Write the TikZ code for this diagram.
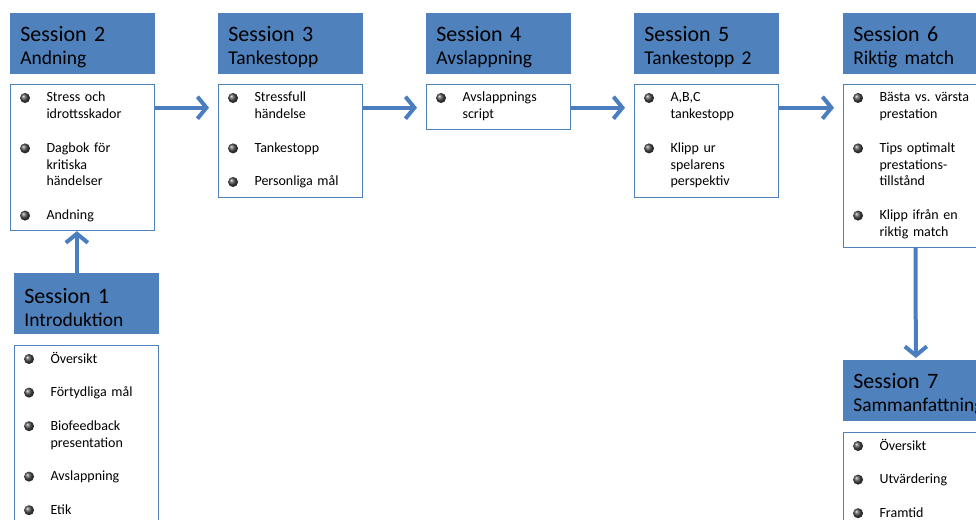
\documentclass[tikz,border=0pt]{standalone}
\usepackage{fontspec}
\setmainfont{Carlito}
\usetikzlibrary{arrows.meta, positioning}
\definecolor{headcolor}{RGB}{79,129,189}
\definecolor{bodyborder}{RGB}{79,129,189}
\definecolor{flowcolor}{RGB}{74,126,190}
\newlength{\itemgap}
\setlength{\itemgap}{9.56pt}
\newcommand{\bul}{\tikz[baseline=-0.08cm]\shade[ball color=black!70] (0,0) circle (0.1cm);}
\newcommand{\headsub}{\fontsize{11.1}{13.1}\selectfont}
\newenvironment{items}{\begin{tabular}{@{\hspace{0.19cm}}p{0.53cm}@{}l@{}}}{\end{tabular}}
\frenchspacing

\begin{document}
\begin{tikzpicture}[
    every node/.style={font=\fontsize{7.97}{9.56}\selectfont},
    headbox/.style={fill=headcolor, anchor=north west, align=left,
                    text width=2.5cm, inner xsep=0.2cm, inner ysep=0pt,
                    minimum height=1.22cm, font=\fontsize{12.5}{13.1}\selectfont,
                    execute at begin node=\rule{0pt}{12.6pt}},
    bodybox/.style={draw=bodyborder, line width=0.6pt, fill=white, align=left,
                    text width=2.88cm, inner xsep=0pt, inner ysep=0.12cm},
    flow/.style={-{Straight Barb[length=0.18cm,width=0.44cm]}, line width=0.08cm,
                 color=flowcolor},
]

\useasboundingbox (0,0) rectangle (19.52,-10.38);
\clip (0,0) rectangle (19.52,-10.38);

%% ── Session headers ──────────────────────────────────────────────────────────
\node[headbox] (s2h) at (0.2,-0.26)   {Session 2\\{\headsub Andning}};
\node[headbox] (s3h) at (4.36,-0.26)  {Session 3\\{\headsub Tankestopp}};
\node[headbox] (s4h) at (8.52,-0.26)  {Session 4\\{\headsub Avslappning}};
\node[headbox] (s5h) at (12.68,-0.26) {Session 5\\{\headsub Tankestopp 2}};
\node[headbox] (s6h) at (16.86,-0.26) {Session 6\\{\headsub Riktig match}};
\node[headbox] (s1h) at (0.28,-5.46)  {Session 1\\{\headsub Introduktion}};
\node[headbox] (s7h) at (16.86,-7.2)  {Session 7\\{\headsub Sammanfattning}};

%% ── Session contents ─────────────────────────────────────────────────────────
\node[bodybox, below=0.18cm of s2h.south west, anchor=north west] (s2b)
  {\begin{items}
   \bul & Stress och\\ & idrottsskador\\[\itemgap]
   \bul & Dagbok för\\ & kritiska\\ & händelser\\[\itemgap]
   \bul & Andning
   \end{items}};

\node[bodybox, below=0.18cm of s3h.south west, anchor=north west] (s3b)
  {\begin{items}
   \bul & Stressfull\\ & händelse\\[\itemgap]
   \bul & Tankestopp\\[\itemgap]
   \bul & Personliga mål
   \end{items}};

\node[bodybox, below=0.18cm of s4h.south west, anchor=north west] (s4b)
  {\begin{items}
   \bul & Avslappnings\\ & script
   \end{items}};

\node[bodybox, below=0.18cm of s5h.south west, anchor=north west] (s5b)
  {\begin{items}
   \bul & A,B,C\\ & tankestopp\\[\itemgap]
   \bul & Klipp ur\\ & spelarens\\ & perspektiv
   \end{items}};

\node[bodybox, below=0.18cm of s6h.south west, anchor=north west] (s6b)
  {\begin{items}
   \bul & Bästa vs. värsta\\ & prestation\\[\itemgap]
   \bul & Tips optimalt\\ & prestations-\\ & tillstånd\\[\itemgap]
   \bul & Klipp ifrån en\\ & riktig match
   \end{items}};

\node[bodybox, below=0.2cm of s1h.south west, anchor=north west] (s1b)
  {\begin{items}
   \bul & Översikt\\[\itemgap]
   \bul & Förtydliga mål\\[\itemgap]
   \bul & Biofeedback\\ & presentation\\[\itemgap]
   \bul & Avslappning\\[\itemgap]
   \bul & Etik
   \end{items}};

\node[bodybox, below=0.2cm of s7h.south west, anchor=north west] (s7b)
  {\begin{items}
   \bul & Översikt\\[\itemgap]
   \bul & Utvärdering\\[\itemgap]
   \bul & Framtid
   \end{items}};

%% ── Flow between sessions ────────────────────────────────────────────────────
\draw[flow] ([xshift=-0.2cm]s1h.north) -- ([xshift=-0.2cm]s1h.north |- s2b.south);
\draw[flow, shorten >=0.18cm] ([yshift=-0.48cm]s2b.north east) -- ([yshift=-0.48cm]s3b.north west);
\draw[flow, shorten >=0.18cm] ([yshift=-0.48cm]s3b.north east) -- ([yshift=-0.48cm]s4b.north west);
\draw[flow, shorten >=0.18cm] ([yshift=-0.48cm]s4b.north east) -- ([yshift=-0.48cm]s5b.north west);
\draw[flow, shorten >=0.18cm] ([yshift=-0.48cm]s5b.north east) -- ([yshift=-0.48cm]s6b.north west);
\draw[flow, shorten >=0.04cm] (s6b.south) -- (s7h.north);

\end{tikzpicture}
\end{document}
